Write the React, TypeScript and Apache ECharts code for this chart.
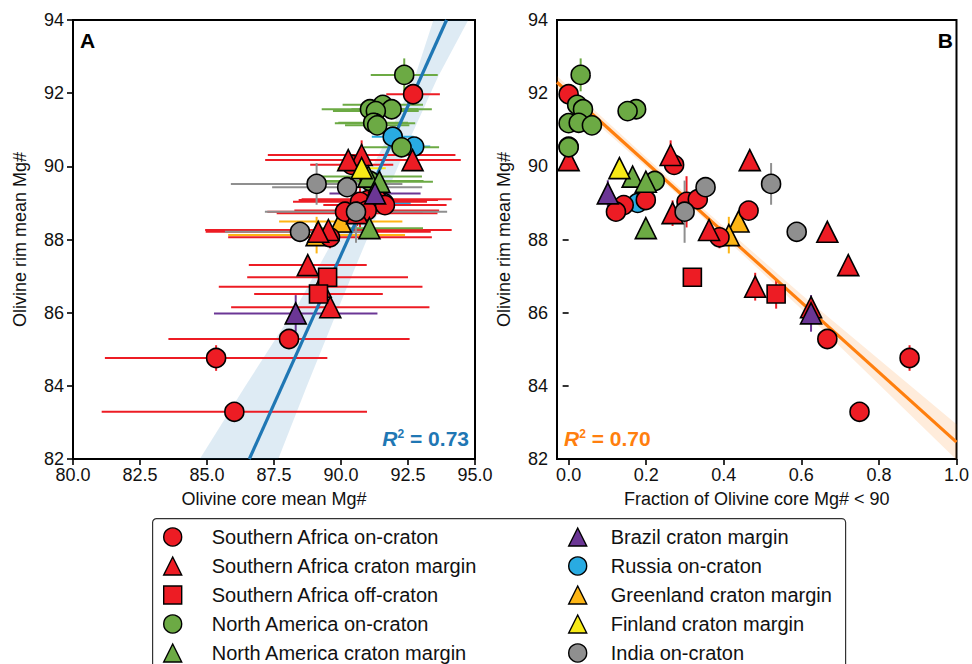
import React, { useEffect, useRef } from "react";
import * as echarts from "echarts";

// ---- data: [core mean Mg#, core sd, rim mean Mg#, rim sd, fraction of core Mg# < 90]
const SA_ON = [
  [92.69, 1.0, 91.97, 0.1, 0.0],
  [90.4, 1.55, 90.04, 0.2, 0.272],
  [91.02, 2.6, 89.08, 0.15, 0.199],
  [90.71, 2.5, 89.03, 0.7, 0.304],
  [91.33, 2.8, 89.1, 0.15, 0.333],
  [91.64, 2.3, 88.94, 0.15, 0.142],
  [90.15, 2.9, 88.76, 0.15, 0.122],
  [90.96, 2.7, 88.79, 0.15, 0.464],
  [89.59, 3.8, 88.06, 0.3, 0.389],
  [88.06, 4.5, 85.28, 0.15, 0.667],
  [85.34, 4.15, 84.76, 0.35, 0.879],
  [86.02, 4.95, 83.29, 0.1, 0.75],
];
const SA_MARGIN = [
  [90.77, 3.5, 90.31, 0.4, 0.263],
  [90.27, 3.1, 90.17, 0.1, 0.467],
  [92.67, 1.8, 90.17, 0.15, 0.0],
  [90.6, 3.0, 88.72, 0.35, 0.268],
  [89.53, 4.6, 88.26, 0.15, 0.362],
  [89.15, 4.2, 88.21, 0.1, 0.667],
  [88.76, 2.2, 87.3, 0.1, 0.721],
  [89.24, 3.8, 86.71, 0.38, 0.481],
  [89.6, 3.7, 86.15, 0.25, 0.625],
];
const SA_OFF = [
  [89.5, 3.0, 86.97, 0.1, 0.319],
  [89.16, 2.4, 86.51, 0.4, 0.535],
];
const NA_ON = [
  [92.36, 1.25, 92.5, 0.45, 0.031],
  [91.56, 1.5, 91.68, 0.1, 0.022],
  [91.08, 1.8, 91.56, 0.1, 0.037],
  [91.89, 1.5, 91.56, 0.2, 0.174],
  [91.3, 1.6, 91.51, 0.1, 0.152],
  [91.27, 1.5, 91.18, 0.1, 0.0],
  [91.2, 1.3, 91.19, 0.1, 0.026],
  [91.35, 1.2, 91.12, 0.1, 0.06],
  [92.26, 1.4, 90.52, 0.1, 0.0],
  [91.08, 2.0, 89.6, 0.15, 0.222],
];
const NA_MARGIN = [
  [91.02, 2.0, 89.72, 0.1, 0.165],
  [91.43, 2.0, 89.58, 0.1, 0.199],
  [91.06, 2.0, 88.31, 0.1, 0.199],
];
const BRAZIL = [
  [91.27, 1.7, 89.26, 0.36, 0.101],
  [88.31, 3.05, 85.98, 0.5, 0.625],
];
const RUSSIA = [
  [91.93, 0.78, 90.81, 0.1, null],
  [92.73, 0.6, 90.54, 0.12, 0.0],
  [91.6, 1.0, 89.0, 0.1, 0.178],
];
const GREENLAND = [
  [89.99, 2.3, 88.49, 0.15, 0.438],
  [89.09, 3.3, 88.12, 0.5, 0.413],
];
const FINLAND = [[90.77, 0.9, 89.95, 0.1, 0.131]];
const INDIA = [
  [89.09, 3.2, 89.52, 0.57, 0.522],
  [90.23, 2.8, 89.43, 0.15, 0.353],
  [90.56, 3.4, 88.76, 0.85, 0.299],
  [88.47, 2.8, 88.21, 0.15, 0.588],
];

// regression lines and confidence bands
const REG_A = [[86.58, 82], [93.94, 94]];
const BAND_A_LEFT = [[84.73, 82], [86.42, 83.98], [88.45, 86.3], [90.1, 88.5], [91.75, 90.8], [92.76, 92.45], [93.45, 94]];
const BAND_A_RIGHT = [[87.66, 82], [88.72, 83.98], [90.0, 86.3], [91.25, 88.5], [92.6, 90.8], [93.62, 92.45], [94.75, 94]];
const REG_B = [[-0.03, 92.3], [1.0, 82.46]];
const BAND_B_UPPER = [[-0.03, 92.47], [0.3, 89.28], [0.6, 86.5], [1.0, 82.95]];
const BAND_B_LOWER = [[-0.03, 92.12], [0.3, 89.05], [0.6, 86.1], [1.0, 81.98]];
const R2_A = "0.73";
const R2_B = "0.70";

const X_TICKS_B = [0, 0.2, 0.4, 0.6, 0.8, 1.0];

const GROUPS = [
  { name: "Southern Africa on-craton", rows: SA_ON, color: "#ED1C24", symbol: "circle", size: 19 },
  { name: "Southern Africa craton margin", rows: SA_MARGIN, color: "#ED1C24", symbol: "triangle", size: 21 },
  { name: "Southern Africa off-craton", rows: SA_OFF, color: "#ED1C24", symbol: "rect", size: 18 },
  { name: "North America on-craton", rows: NA_ON, color: "#6CAA44", symbol: "circle", size: 19 },
  { name: "North America craton margin", rows: NA_MARGIN, color: "#6CAA44", symbol: "triangle", size: 21 },
  { name: "Brazil craton margin", rows: BRAZIL, color: "#6B3695", symbol: "triangle", size: 21 },
  { name: "Russia on-craton", rows: RUSSIA, color: "#29ABE2", symbol: "circle", size: 19 },
  { name: "Greenland craton margin", rows: GREENLAND, color: "#FDB515", symbol: "triangle", size: 21 },
  { name: "Finland craton margin", rows: FINLAND, color: "#F7EA17", symbol: "triangle", size: 21 },
  { name: "India on-craton", rows: INDIA, color: "#8F8F8F", symbol: "circle", size: 19 },
];
// drawing order (bottom to top)
const DRAW_ORDER = [
  "Russia on-craton",
  "Greenland craton margin",
  "Southern Africa on-craton",
  "Southern Africa craton margin",
  "Southern Africa off-craton",
  "North America on-craton",
  "North America craton margin",
  "India on-craton",
  "Brazil craton margin",
  "Finland craton margin",
];

const FONT = "Liberation Sans, Arial, Helvetica, sans-serif";
const BLUE = "#1F77B4";
const ORANGE = "#FF7F0E";

function errRender(color: string) {
  return (params: any, api: any) => {
    const x = api.value(0);
    const y = api.value(1);
    const xe = api.value(2);
    const ye = api.value(3);
    const children: any[] = [];
    if (xe > 0) {
      const a = api.coord([x - xe, y]);
      const b = api.coord([x + xe, y]);
      children.push({ type: "line", shape: { x1: a[0], y1: a[1], x2: b[0], y2: b[1] }, style: { stroke: color, lineWidth: 2 } });
    }
    if (ye > 0) {
      const a = api.coord([x, y - ye]);
      const b = api.coord([x, y + ye]);
      children.push({ type: "line", shape: { x1: a[0], y1: a[1], x2: b[0], y2: b[1] }, style: { stroke: color, lineWidth: 2 } });
    }
    return { type: "group", children };
  };
}

function bandRender(first: number[][], second: number[][], color: string) {
  return (params: any, api: any) => {
    const pts = first.map((p) => api.coord(p)).concat(second.slice().reverse().map((p) => api.coord(p)));
    return { type: "polygon", shape: { points: pts }, style: { fill: color } };
  };
}

function buildOption() {
  const series: any[] = [];
  // bands
  series.push({
    type: "custom", xAxisIndex: 0, yAxisIndex: 0, z: 1, clip: true, silent: true,
    data: [[90, 88]], encode: { x: 0, y: 1 },
    renderItem: bandRender(BAND_A_LEFT, BAND_A_RIGHT, "rgba(31,119,180,0.15)"),
  });
  series.push({
    type: "custom", xAxisIndex: 1, yAxisIndex: 1, z: 1, clip: true, silent: true,
    data: [[0.5, 88]], encode: { x: 0, y: 1 },
    renderItem: bandRender(BAND_B_UPPER, BAND_B_LOWER, "rgba(255,127,14,0.15)"),
  });
  const ordered = DRAW_ORDER.map((n) => GROUPS.find((g) => g.name === n)!);
  // error bars
  ordered.forEach((g) => {
    series.push({
      type: "custom", xAxisIndex: 0, yAxisIndex: 0, z: 2, clip: true, silent: true,
      encode: { x: 0, y: 1 },
      data: g.rows.map((r) => [r[0], r[2], r[1], r[3]]),
      renderItem: errRender(g.color),
    });
    series.push({
      type: "custom", xAxisIndex: 1, yAxisIndex: 1, z: 2, clip: true, silent: true,
      encode: { x: 0, y: 1 },
      data: g.rows.filter((r) => r[4] !== null).map((r) => [r[4], r[2], 0, r[3]]),
      renderItem: errRender(g.color),
    });
  });
  // regression lines
  series.push({
    type: "line", xAxisIndex: 0, yAxisIndex: 0, z: 3, data: REG_A, symbol: "none", silent: true,
    lineStyle: { color: BLUE, width: 3.2 },
  });
  series.push({
    type: "line", xAxisIndex: 1, yAxisIndex: 1, z: 3, data: REG_B, symbol: "none", silent: true,
    lineStyle: { color: ORANGE, width: 3.2 },
  });
  // markers
  ordered.forEach((g) => {
    const itemStyle = { color: g.color, borderColor: "#000", borderWidth: 1.6, opacity: 1 };
    series.push({
      name: g.name, type: "scatter", xAxisIndex: 0, yAxisIndex: 0, z: 4,
      symbol: g.symbol, symbolSize: g.size, itemStyle,
      data: g.rows.map((r) => [r[0], r[2]]),
    });
    series.push({
      name: g.name, type: "scatter", xAxisIndex: 1, yAxisIndex: 1, z: 4,
      symbol: g.symbol, symbolSize: g.size, itemStyle,
      data: g.rows.filter((r) => r[4] !== null).map((r) => [r[4], r[2]]),
    });
  });

  const legendItem = (g: any) => ({
    name: g.name,
    icon: g.symbol,
    itemStyle: { color: g.color, borderColor: "#000", borderWidth: 1.4 },
  });

  const axisCommon = {
    axisLine: { show: false },
    axisTick: { show: true, inside: false, length: 6, lineStyle: { color: "#000", width: 1.6 } },
    splitLine: { show: false },
    axisLabel: { color: "#111", fontSize: 18, fontFamily: FONT },
    nameTextStyle: { color: "#111", fontSize: 18, fontFamily: FONT },
  };

  const legendCommon = {
    orient: "vertical", top: 527, height: 300, padding: 0,
    itemWidth: 18, itemHeight: 18, itemGap: 9, selectedMode: false,
  };

  return {
    animation: false,
    textStyle: { fontFamily: FONT },
    grid: [
      { left: 73, top: 20, width: 402, height: 439, show: true, borderColor: "#000", borderWidth: 2, backgroundColor: "transparent" },
      { left: 557, top: 20, width: 402, height: 439, show: true, borderColor: "#000", borderWidth: 2, backgroundColor: "transparent" },
    ],
    xAxis: [
      {
        ...axisCommon, type: "value", gridIndex: 0, min: 80, max: 95, interval: 2.5,
        name: "Olivine core mean Mg#", nameLocation: "middle", nameGap: 31,
        axisLabel: { ...axisCommon.axisLabel, margin: 7, formatter: (v: number) => v.toFixed(1) },
      },
      {
        ...axisCommon, type: "value", gridIndex: 1, min: -0.03, max: 1.0,
        name: "Fraction of Olivine core Mg# < 90", nameLocation: "middle", nameGap: 31,
        axisTick: { ...axisCommon.axisTick, customValues: X_TICKS_B },
        axisLabel: { ...axisCommon.axisLabel, margin: 7, customValues: X_TICKS_B, formatter: (v: number) => v.toFixed(1) },
      },
    ],
    yAxis: [
      {
        ...axisCommon, type: "value", gridIndex: 0, min: 82, max: 94, interval: 2,
        name: "Olivine rim mean Mg#", nameLocation: "middle", nameGap: 44,
        axisLabel: { ...axisCommon.axisLabel, margin: 9 },
      },
      {
        ...axisCommon, type: "value", gridIndex: 1, min: 82, max: 94, interval: 2,
        name: "Olivine rim mean Mg#", nameLocation: "middle", nameGap: 44,
        axisLabel: { ...axisCommon.axisLabel, margin: 9 },
      },
    ],
    legend: [
      {
        ...legendCommon, left: 163,
        textStyle: { fontSize: 20, lineHeight: 18, color: "#111", fontFamily: FONT, padding: [0, 0, 0, 25] },
        data: GROUPS.slice(0, 5).map(legendItem),
      },
      {
        ...legendCommon, left: 568,
        textStyle: { fontSize: 20, lineHeight: 18, color: "#111", fontFamily: FONT, padding: [0, 0, 0, 19] },
        data: GROUPS.slice(5).map(legendItem),
      },
    ],
    graphic: [
      {
        type: "rect", left: 152, top: 518, z: 0, silent: true,
        shape: { width: 693, height: 160, r: 4 },
        style: { fill: "#fff", stroke: "#333", lineWidth: 1.2 },
      },
      {
        type: "text", x: 80, y: 40, z: 10, silent: true,
        style: { text: "A", fontSize: 21, fontWeight: "bold", fill: "#000", fontFamily: FONT, verticalAlign: "middle" },
      },
      {
        type: "text", x: 953, y: 40, z: 10, silent: true,
        style: { text: "B", fontSize: 21, fontWeight: "bold", fill: "#000", fontFamily: FONT, align: "right", verticalAlign: "middle" },
      },
      {
        type: "text", x: 469, y: 438, z: 10, silent: true,
        style: {
          text: "{r|R}{s|2}{t| = " + R2_A + "}", align: "right", verticalAlign: "middle",
          rich: {
            r: { fontSize: 21, fontWeight: "bold", fontStyle: "italic", fill: BLUE, fontFamily: FONT },
            s: { fontSize: 12, fontWeight: "bold", fill: BLUE, fontFamily: FONT, verticalAlign: "top" },
            t: { fontSize: 21, fontWeight: "bold", fill: BLUE, fontFamily: FONT },
          },
        },
      },
      {
        type: "text", x: 564, y: 438, z: 10, silent: true,
        style: {
          text: "{r|R}{s|2}{t| = " + R2_B + "}", align: "left", verticalAlign: "middle",
          rich: {
            r: { fontSize: 21, fontWeight: "bold", fontStyle: "italic", fill: ORANGE, fontFamily: FONT },
            s: { fontSize: 12, fontWeight: "bold", fill: ORANGE, fontFamily: FONT, verticalAlign: "top" },
            t: { fontSize: 21, fontWeight: "bold", fill: ORANGE, fontFamily: FONT },
          },
        },
      },
    ],
    series,
  };
}

export default function App() {
  const ref = useRef<HTMLDivElement>(null);
  useEffect(() => {
    if (!ref.current) return;
    const chart = echarts.init(ref.current, null, { renderer: "svg" });
    chart.setOption(buildOption() as any);
    return () => chart.dispose();
  }, []);
  return (
    <div
      ref={ref}
      style={{ position: "fixed", left: 0, top: 0, width: 972, height: 664, background: "#fff" }}
    />
  );
}
